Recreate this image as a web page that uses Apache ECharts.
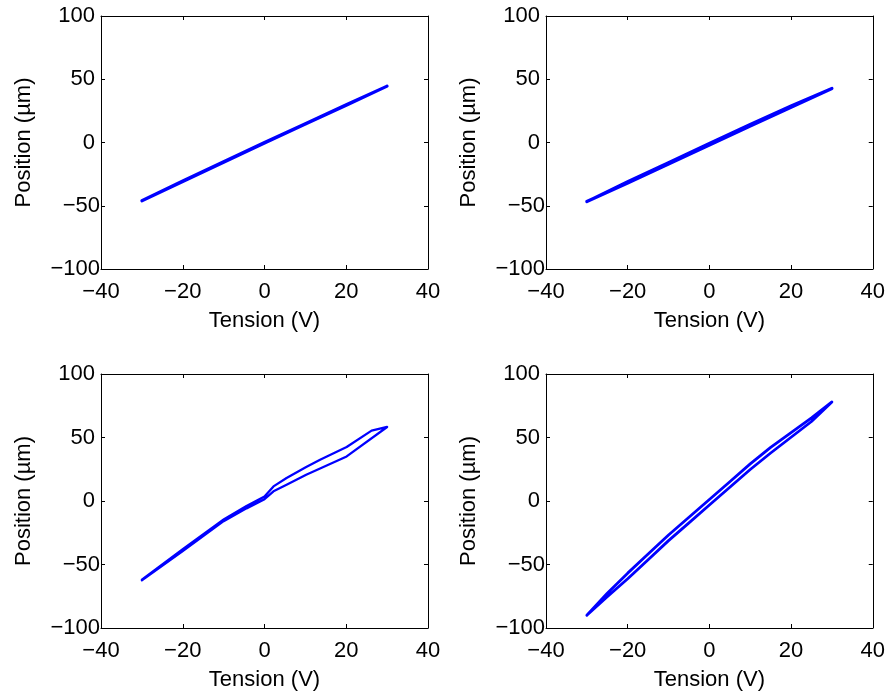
<!DOCTYPE html>
<html>
<head>
<meta charset="utf-8">
<script src="https://cdn.jsdelivr.net/npm/echarts@6/dist/echarts.min.js"></script>
<style>html,body{margin:0;padding:0;background:#fff}#c{width:888px;height:693px}</style>
</head>
<body>
<div id="c"></div>
<script>
// ---- data ----
const xTicks = [-40, -20, 0, 20, 40];
const yTicks = [-100, -50, 0, 50, 100];
const xLabel = 'Tension (V)';
const yLabel = 'Position (µm)';

// Panel A (top-left)
const voltA = [-30, -20, -10, 0, 10, 20, 30];
const posA_up = [-46.2, -30.9, -15.7, -0.5, 14.5, 29.4, 44.6];
const posA_down = [-45.9, -30.4, -15.2, 0.1, 15.0, 29.9, 44.6];

// Panel B (top-right)
const voltB = [-30, -20, -10, 0, 10, 20, 30];
const posB_up = [-46.7, -32.0, -17.0, -2.0, 13.0, 27.8, 42.7];
const posB_down = [-46.7, -31.0, -16.0, -0.8, 14.2, 28.8, 42.7];

// Panel C (bottom-left)
const voltC_up = [-30, -20, -10, -4.4, 0, 2.2, 5.4, 10.2, 20.1, 30];
const posC_up = [-62.5, -39.4, -15.9, -5.8, 1.4, 7.6, 12.8, 20.7, 35.1, 58.3];
const voltC_down = [30, 26.2, 20.1, 13.6, 10.2, 5.4, 2.2, 0, -4.4, -9.9, -20, -30];
const posC_down = [58.3, 55.4, 42.5, 32.5, 26.8, 18.1, 11.5, 3.6, -4.0, -14.4, -38.0, -62];

// Panel D (bottom-right)
const voltD = [-30, -25, -20, -15, -10, -5, 0, 5, 10, 15, 20, 25, 30];
const posD_up = [-90, -75.4, -61.2, -46.2, -31.2, -17.2, -3.2, 10.8, 24.8, 37.8, 50.2, 62.6, 78];
const posD_down = [-90, -72.6, -56.8, -41.8, -26.8, -12.8, 1.2, 15.2, 29.2, 42.2, 53.8, 65.4, 78];

// ---- build loops (ascending branch then descending branch) ----
function loopFull(xu, yu, xd, yd) {
  const up = xu.map((x, i) => [x, yu[i]]);
  const down = xd.map((x, i) => [x, yd[i]]);
  return up.concat(down);
}
const loops = [
  loopFull(voltA, posA_up, voltA.slice().reverse(), posA_down.slice().reverse()),
  loopFull(voltB, posB_up, voltB.slice().reverse(), posB_down.slice().reverse()),
  loopFull(voltC_up, posC_up, voltC_down, posC_down),
  loopFull(voltD, posD_up, voltD.slice().reverse(), posD_down.slice().reverse())
];
const lineWidths = [3, 3.2, 2.3, 2.8];

const FONT = 'Liberation Sans, Arial, Helvetica, sans-serif';
const FS = 22;
const grids = [
  {left: 101, top: 16, width: 327, height: 253},
  {left: 546, top: 16, width: 327, height: 253},
  {left: 101, top: 374, width: 327, height: 254},
  {left: 546, top: 374, width: 327, height: 254}
];
const fmtMinus = v => (v < 0 ? '\u2212' + Math.abs(v) : String(v));

const xAxes = [], yAxes = [], series = [];
grids.forEach((g, i) => {
  const xBase = {
    gridIndex: i, type: 'value', min: xTicks[0], max: xTicks[xTicks.length - 1],
    interval: xTicks[1] - xTicks[0], splitLine: {show: false},
    axisLine: {show: true, onZero: false, lineStyle: {color: '#000', width: 1}},
    axisTick: {show: true, inside: true, length: 4, lineStyle: {color: '#000'}}
  };
  xAxes.push(Object.assign({}, xBase, {
    position: 'bottom', name: xLabel, nameLocation: 'middle', nameGap: 41,
    nameTextStyle: {fontFamily: FONT, fontSize: FS, color: '#000'},
    axisLabel: {show: true, margin: 12, fontFamily: FONT, fontSize: FS, color: '#000', formatter: fmtMinus}
  }));
  xAxes.push(Object.assign({}, xBase, {position: 'top', axisLabel: {show: false}}));
  const yBase = {
    gridIndex: i, type: 'value', min: yTicks[0], max: yTicks[yTicks.length - 1],
    interval: yTicks[1] - yTicks[0], splitLine: {show: false},
    axisLine: {show: true, onZero: false, lineStyle: {color: '#000', width: 1}},
    axisTick: {show: true, inside: true, length: 4, lineStyle: {color: '#000'}}
  };
  yAxes.push(Object.assign({}, yBase, {
    position: 'left', name: yLabel, nameLocation: 'middle', nameGap: 66,
    nameTextStyle: {fontFamily: FONT, fontSize: FS, color: '#000'},
    axisLabel: {
      show: true, margin: 1, fontFamily: FONT, fontSize: FS, color: '#000',
      formatter: v => (v < 0 ? '\u2212' + Math.abs(v) : '{p|' + v + '}'),
      rich: {p: {fontFamily: FONT, fontSize: FS, color: '#000', padding: [0, 5, 0, 0]}}
    }
  }));
  yAxes.push(Object.assign({}, yBase, {position: 'right', axisLabel: {show: false}}));
  series.push({
    type: 'line', xAxisIndex: 2 * i, yAxisIndex: 2 * i, data: loops[i],
    showSymbol: false, symbol: 'none', smooth: false, animation: false,
    lineStyle: {color: '#0000ff', width: lineWidths[i], join: 'round', cap: 'round'}
  });
});

const chart = echarts.init(document.getElementById('c'), null, {renderer: 'canvas'});
chart.setOption({
  backgroundColor: '#fff', animation: false,
  grid: grids, xAxis: xAxes, yAxis: yAxes, series: series
});
</script>
</body>
</html>
